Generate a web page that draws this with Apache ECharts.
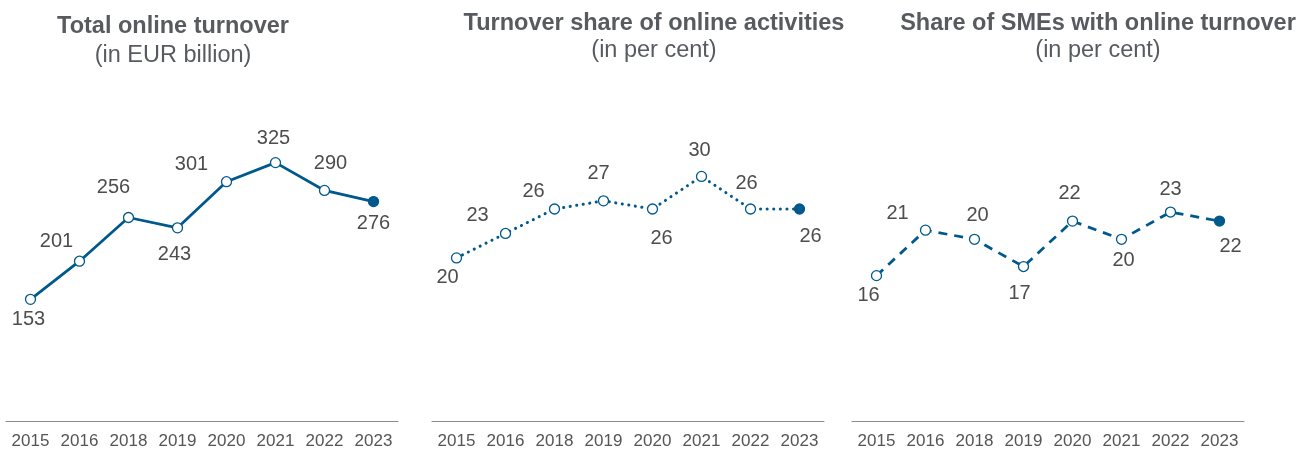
<!DOCTYPE html>
<html>
<head>
<meta charset="utf-8">
<script src="https://cdn.jsdelivr.net/npm/echarts@6/dist/echarts.min.js"></script>
<style>
html,body{margin:0;padding:0;background:#fff;}
#chart{width:1299px;height:450px;}
</style>
</head>
<body>
<div id="chart"></div>
<script>
// ---- data ----
const years = ['2015','2016','2018','2019','2020','2021','2022','2023'];
const turnover = [153, 201, 256, 243, 301, 325, 290, 276];
const shareTurnover = [20, 23, 26, 27, 26, 30, 26, 26];
const shareSMEs = [16, 21, 20, 17, 22, 20, 23, 22];

const titles = ['Total online turnover', 'Turnover share of online activities', 'Share of SMEs with online turnover'];
const subtitles = ['(in EUR billion)', '(in per cent)', '(in per cent)'];

// ---- layout (label offsets relative to each point) ----
const labelOffsets1 = [[-2,20],[-23,-20],[-15,-30],[-3,27],[-35,-17],[-2,-24],[6,-27],[0,22]];
const labelOffsets2 = [[-9,20],[-28,-18],[-21,-18],[-5,-27],[9,29],[-2,-26],[-4,-26],[11,27]];
const labelOffsets3 = [[-8,20],[-28,-17],[3,-24],[-4,27],[-3,-28],[2,21],[0,-23],[11,25]];

const BLUE = '#00598c';
const TXT = '#555';
const FONT = 'Liberation Sans, Arial, sans-serif';

const grids = [
  {left: 6, width: 392, top: 103, height: 320},
  {left: 432, width: 392, top: 103, height: 320},
  {left: 852, width: 392, top: 103, height: 320}
];
const yMax = [400, 39, 35];
const lineTypes = ['solid', [0.1, 6.5], [9, 7]];
const series = [turnover, shareTurnover, shareSMEs];
const offsets = [labelOffsets1, labelOffsets2, labelOffsets3];
const titleX = [173, 654, 1098];
const titleY = [27, 24, 24];
const subGap = [29, 27, 27];

function buildData(vals, offs) {
  return vals.map((v, i) => {
    const last = i === vals.length - 1;
    return {
      value: v,
      itemStyle: last ? {color: BLUE, borderColor: BLUE} : {color: '#fff', borderColor: BLUE},
      label: {offset: offs[i]}
    };
  });
}

const option = {
  animation: false,
  backgroundColor: '#fff',
  grid: grids,
  xAxis: grids.map((g, i) => ({
    type: 'category',
    gridIndex: i,
    data: years,
    boundaryGap: true,
    axisLine: {lineStyle: {color: '#8c8c8c', width: 1}},
    axisTick: {show: false},
    axisLabel: {color: TXT, fontSize: 17, fontFamily: FONT, margin: 12, interval: 0}
  })),
  yAxis: grids.map((g, i) => ({
    type: 'value',
    gridIndex: i,
    min: 0,
    max: yMax[i],
    show: false,
    splitLine: {show: false}
  })),
  series: series.map((vals, i) => ({
    type: 'line',
    xAxisIndex: i,
    yAxisIndex: i,
    data: buildData(vals, offsets[i]),
    symbol: 'circle',
    symbolSize: 10,
    showAllSymbol: true,
    lineStyle: {color: BLUE, width: i === 1 ? 3 : 2.75, type: lineTypes[i], cap: i === 1 ? 'round' : 'butt'},
    itemStyle: {borderWidth: 1.3},
    label: {
      show: true,
      position: 'inside',
      color: '#4d4d4d',
      fontSize: 20,
      fontFamily: FONT
    },
    z: 3
  })),
  graphic: titles.flatMap((t, i) => [
    {
      type: 'text', x: titleX[i], y: titleY[i],
      style: {text: t, textAlign: 'center', textVerticalAlign: 'middle',
        fill: '#575b60', font: 'bold 23.5px ' + FONT}
    },
    {
      type: 'text', x: titleX[i], y: titleY[i] + subGap[i],
      style: {text: subtitles[i], textAlign: 'center', textVerticalAlign: 'middle',
        fill: '#575b60', font: '23.5px ' + FONT}
    }
  ])
};

const chart = echarts.init(document.getElementById('chart'), null, {renderer: 'canvas'});
chart.setOption(option);
</script>
</body>
</html>
